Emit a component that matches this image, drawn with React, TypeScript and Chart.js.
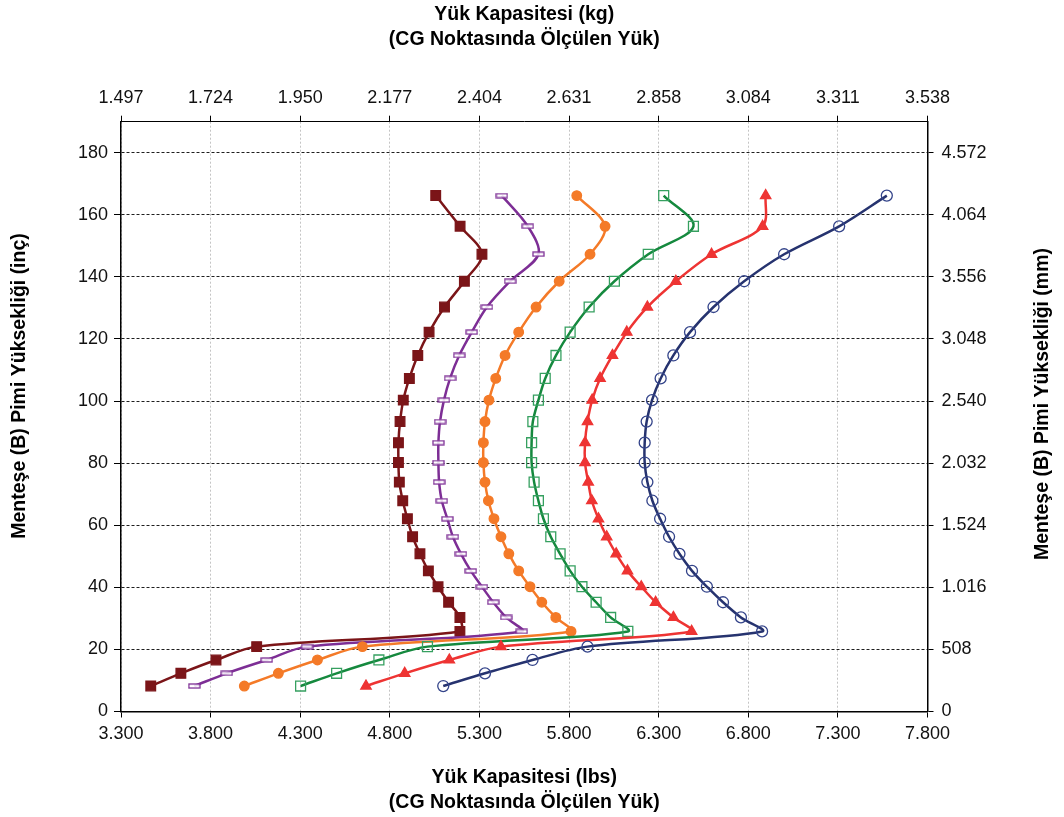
import React, { useEffect, useRef } from 'react';
import { Chart, registerables } from 'chart.js';

Chart.register(...registerables);

// Hinge (B) pin heights, inches (shared by all curves)
const hingeHeightIn = [8.2, 12.3, 16.6, 20.9, 25.8, 30.3, 35.2, 40.2, 45.3, 50.8, 56.3, 62.1, 67.9, 73.9, 80.2, 86.6, 93.4, 100.3, 107.3, 114.7, 122.2, 130.3, 138.6, 147.3, 156.3, 166.2];

// Load capacity (lbs) per curve
const loadDarkRed = [3466, 3634, 3830, 4057, 5191, 5191, 5128, 5069, 5015, 4968, 4927, 4898, 4872, 4853, 4848, 4848, 4857, 4875, 4909, 4956, 5019, 5105, 5216, 5314, 5192, 5056];
const loadPurple = [3709, 3890, 4113, 4338, 5536, 5449, 5377, 5314, 5252, 5197, 5152, 5121, 5090, 5075, 5071, 5071, 5080, 5102, 5136, 5187, 5257, 5342, 5471, 5629, 5570, 5425];
const loadOrange = [3988, 4178, 4396, 4647, 5811, 5726, 5648, 5582, 5519, 5464, 5420, 5381, 5350, 5331, 5322, 5322, 5331, 5353, 5391, 5443, 5519, 5616, 5745, 5917, 6001, 5843];
const loadGreen = [4302, 4503, 4739, 5010, 6128, 6032, 5951, 5872, 5806, 5750, 5698, 5657, 5629, 5605, 5591, 5591, 5598, 5629, 5667, 5727, 5806, 5912, 6053, 6242, 6494, 6328];
const loadRed = [4667, 4883, 5132, 5420, 6484, 6382, 6283, 6203, 6126, 6063, 6010, 5964, 5927, 5907, 5889, 5889, 5903, 5929, 5973, 6042, 6122, 6237, 6396, 6595, 6880, 6897];
const loadNavy = [5098, 5331, 5596, 5903, 6877, 6759, 6659, 6569, 6486, 6416, 6358, 6308, 6265, 6237, 6222, 6222, 6233, 6263, 6311, 6382, 6475, 6606, 6777, 7000, 7307, 7573];

// Axis ranges / ticks
const lbsMin = 3300;
const lbsMax = 7800;
const lbsStep = 500;
const inMin = 0;
const inMax = 190;
const inStep = 20;
const inTickMax = 180;
const LB_TO_KG = 0.45359237;
const IN_TO_MM = 25.4;

const topTitle = ['Yük Kapasitesi (kg)', '(CG Noktasında Ölçülen Yük)'];
const bottomTitle = ['Yük Kapasitesi (lbs)', '(CG Noktasında Ölçülen Yük)'];
const leftTitle = 'Menteşe (B) Pimi Yüksekliği (inç)';
const rightTitle = 'Menteşe (B) Pimi Yüksekliği (mm)';

const FONT = '"Liberation Sans", Arial, Helvetica, sans-serif';

function thousands(n: number): string {
  return Math.round(n).toString().replace(/\B(?=(\d{3})+(?!\d))/g, '.');
}

function makeDashMarker(color: string): HTMLCanvasElement {
  const c = document.createElement('canvas');
  c.width = 13;
  c.height = 6;
  const g = c.getContext('2d')!;
  g.fillStyle = 'rgba(255,255,255,0.85)';
  g.fillRect(1, 1, 11, 4);
  g.strokeStyle = color;
  g.lineWidth = 1.3;
  g.strokeRect(1, 1, 11, 4);
  return c;
}

const sideTitles = {
  id: 'sideTitles',
  afterDraw(chart: any) {
    const ctx = chart.ctx as CanvasRenderingContext2D;
    ctx.save();
    ctx.font = `bold 19.5px ${FONT}`;
    ctx.fillStyle = '#000';
    ctx.textAlign = 'center';
    ctx.textBaseline = 'middle';
    ctx.save();
    ctx.translate(20, 386);
    ctx.rotate(-Math.PI / 2);
    ctx.fillText(leftTitle, 0, 0);
    ctx.restore();
    ctx.save();
    ctx.translate(1043, 404);
    ctx.rotate(-Math.PI / 2);
    ctx.fillText(rightTitle, 0, 0);
    ctx.restore();
    ctx.restore();
  },
};

export default function App() {
  const ref = useRef<HTMLCanvasElement>(null);

  useEffect(() => {
    if (!ref.current) return;
    const mk = (label: string, loads: number[], color: string, extra: any) => ({
      label,
      data: hingeHeightIn.map((y, i) => ({ x: loads[i], y })),
      borderColor: color,
      backgroundColor: color,
      borderWidth: 2.5,
      tension: 0.33,
      showLine: true,
      pointBorderWidth: 1.3,
      xAxisID: 'x',
      yAxisID: 'y',
      ...extra,
    });

    const datasets = [
      mk('A', loadNavy, '#26336F', {
        pointStyle: 'circle', pointRadius: 5.5, pointBackgroundColor: 'rgba(0,0,0,0)', pointBorderColor: '#34448A',
      }),
      mk('B', loadRed, '#EE3433', {
        pointStyle: 'triangle', pointRadius: 6, pointBackgroundColor: '#EE3433', pointBorderColor: '#EE3433',
      }),
      mk('C', loadGreen, '#15893E', {
        pointStyle: 'rect', pointRadius: 7, pointBackgroundColor: 'rgba(0,0,0,0)', pointBorderColor: '#36A060',
      }),
      mk('D', loadOrange, '#F47A28', {
        pointStyle: 'circle', pointRadius: 4.8, pointBackgroundColor: '#F47A28', pointBorderColor: '#F47A28',
      }),
      mk('E', loadPurple, '#7D2E95', {
        pointStyle: makeDashMarker('#7D2E95'), pointRadius: 6,
      }),
      mk('F', loadDarkRed, '#7B1518', {
        pointStyle: 'rect', pointRadius: 6.8, pointBackgroundColor: '#7B1518', pointBorderColor: '#7B1518',
      }),
    ];

    const tickFont = { family: FONT, size: 18 };
    const titleFont = { family: FONT, size: 19.5, weight: 'bold' as const, lineHeight: '25px' };

    const chart = new Chart(ref.current, {
      type: 'scatter',
      data: { datasets },
      plugins: [sideTitles],
      options: {
        animation: false,
        responsive: false,
        devicePixelRatio: 1,
        layout: { padding: 0 },
        plugins: { legend: { display: false }, title: { display: false }, tooltip: { enabled: false } },
        scales: {
          x: {
            type: 'linear',
            position: 'bottom',
            min: lbsMin,
            max: lbsMax,
            ticks: {
              stepSize: lbsStep,
              color: '#111',
              font: tickFont,
              padding: 6,
              maxRotation: 0,
              autoSkip: false,
              callback: (v: any) => thousands(Number(v)),
            },
            grid: { color: '#C4C4C4', lineWidth: 1, tickColor: '#000', tickLength: 6, tickWidth: 1 },
            border: { display: true, color: '#000', width: 1.5, dash: [2, 2] },
            title: { display: true, text: bottomTitle, font: titleFont, color: '#000', padding: { top: 0, bottom: 1.5 } },
            afterFit: (s: any) => { s.height = 105.5; },
          },
          x2: {
            type: 'linear',
            position: 'top',
            min: lbsMin,
            max: lbsMax,
            ticks: {
              stepSize: lbsStep,
              color: '#111',
              font: tickFont,
              padding: 7,
              maxRotation: 0,
              autoSkip: false,
              callback: (v: any) => ((Number(v) * LB_TO_KG) / 1000).toFixed(3),
            },
            grid: { drawOnChartArea: false, tickColor: '#000', tickLength: 6, color: '#000' },
            border: { display: true, color: '#000', width: 1 },
            title: { display: true, text: topTitle, font: titleFont, color: '#000', padding: { top: 2.5, bottom: 0 } },
            afterFit: (s: any) => { s.height = 121.7; },
          },
          y: {
            type: 'linear',
            position: 'left',
            min: inMin,
            max: inMax,
            ticks: {
              stepSize: inStep,
              color: '#111',
              font: tickFont,
              padding: 6,
              includeBounds: false,
              callback: (v: any) => String(v),
            },
            afterBuildTicks: (s: any) => {
              s.ticks = s.ticks.filter((t: any) => t.value <= inTickMax && t.value % inStep === 0);
            },
            grid: { color: '#1E1E1E', lineWidth: 1, tickColor: '#000', tickLength: 7 },
            border: { display: true, color: '#000', width: 1.5, dash: [3, 2] },
            afterFit: (s: any) => { s.width = 121; },
          },
          y2: {
            type: 'linear',
            position: 'right',
            min: inMin,
            max: inMax,
            ticks: {
              stepSize: inStep,
              color: '#111',
              font: tickFont,
              padding: 8,
              includeBounds: false,
              callback: (v: any) => thousands(Number(v) * IN_TO_MM),
            },
            afterBuildTicks: (s: any) => {
              s.ticks = s.ticks.filter((t: any) => t.value <= inTickMax && t.value % inStep === 0);
            },
            grid: { drawOnChartArea: false, tickColor: '#000', tickLength: 6, color: '#000' },
            border: { display: true, color: '#000', width: 1.5 },
            afterFit: (s: any) => { s.width = 136.5; },
          },
        },
      } as any,
    });
    return () => chart.destroy();
  }, []);

  return (
    <div style={{ position: 'absolute', left: 0, top: 0, width: 1064, height: 817, background: '#fff' }}>
      <canvas ref={ref} width={1064} height={817} style={{ display: 'block' }} />
    </div>
  );
}
